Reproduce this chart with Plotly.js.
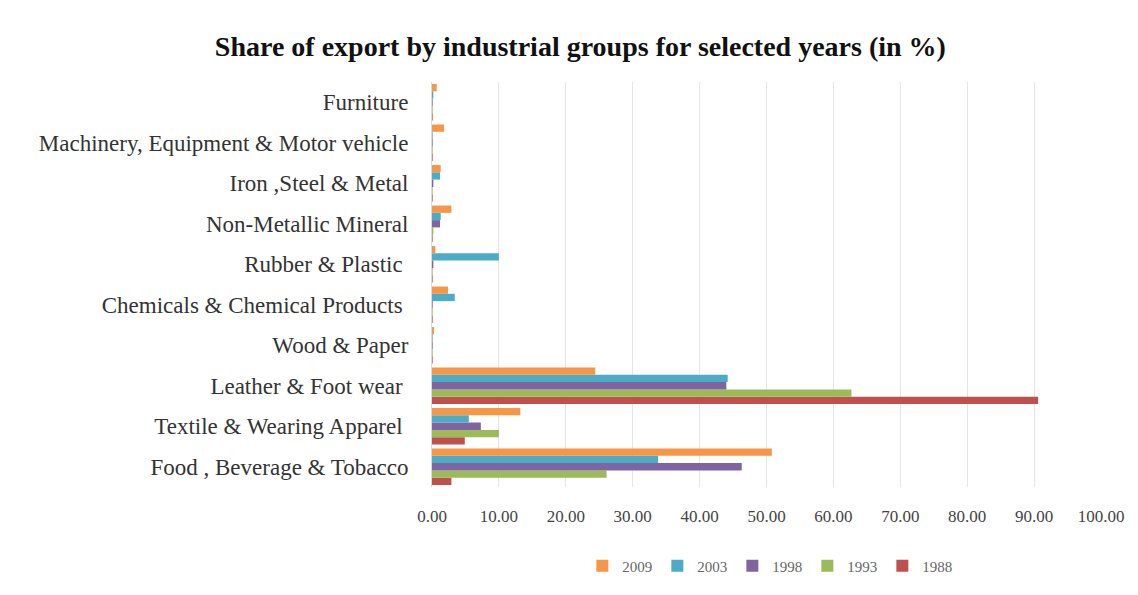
<!DOCTYPE html>
<html>
<head>
<meta charset="utf-8">
<script src="https://cdn.plot.ly/plotly-3.0.1.min.js"></script>
<style>html,body{margin:0;padding:0;background:#fff;}#chart{width:1138px;height:595px;}</style>
</head>
<body>
<div id="chart"></div>
<script>
const categories = ["Food , Beverage & Tobacco", "Textile & Wearing Apparel ", "Leather & Foot wear ", "Wood & Paper", "Chemicals & Chemical Products ", "Rubber & Plastic ", "Non-Metallic Mineral", "Iron ,Steel & Metal", "Machinery, Equipment & Motor vehicle", "Furniture"];
const years = ["1988", "1993", "1998", "2003", "2009"];
const v1988 = [2.9, 4.9, 90.6, 0.1, 0.1, 0.1, 0.1, 0.1, 0.1, 0.1];
const v1993 = [26.1, 10.0, 62.7, 0.1, 0.1, 0.1, 0.2, 0.1, 0.1, 0.1];
const v1998 = [46.3, 7.3, 44.0, 0.1, 0.1, 0.2, 1.2, 0.2, 0.1, 0.1];
const v2003 = [33.8, 5.5, 44.2, 0.1, 3.4, 10.0, 1.3, 1.2, 0.1, 0.2];
const v2009 = [50.8, 13.2, 24.4, 0.3, 2.4, 0.5, 2.9, 1.3, 1.8, 0.7];
const series = [v1988, v1993, v1998, v2003, v2009];
const colors = ["#C0504D", "#9BBB59", "#8064A2", "#4BACC6", "#F79646"];

const traces = years.map((y, i) => ({
  type: "bar",
  orientation: "h",
  name: y,
  y: categories,
  x: series[i],
  marker: {color: colors[i]}
}));

const serif = "Liberation Serif, Times New Roman, serif";
const layout = {
  width: 1138, height: 595,
  margin: {l: 432, r: 37, t: 82, b: 106},
  paper_bgcolor: "#fff", plot_bgcolor: "#fff",
  barmode: "group",
  bargap: 0.1,
  bargroupgap: 0,
  font: {family: serif, color: "#333"},
  title: {
    text: "<b>Share of export by industrial groups for selected years (in %)</b>",
    font: {family: serif, size: 28, color: "#111"},
    xref: "container", x: 0.51, xanchor: "center",
    yref: "container", y: 0.922, yanchor: "middle"
  },
  xaxis: {
    range: [0, 100], dtick: 10, tickformat: ".2f",
    showgrid: true, gridcolor: "#e6e6e6", gridwidth: 1,
    zeroline: false, showline: false,
    ticks: "outside", ticklen: 14, tickcolor: "rgba(0,0,0,0)",
    tickfont: {family: serif, size: 17, color: "#444"},
    fixedrange: true
  },
  yaxis: {
    type: "category",
    showgrid: false, zeroline: false,
    showline: true, linecolor: "#d9d9d9", linewidth: 1,
    ticks: "outside", ticklen: 18, tickcolor: "rgba(0,0,0,0)",
    tickfont: {family: serif, size: 23, color: "#333"},
    automargin: false
  },
  legend: {
    orientation: "h",
    traceorder: "reversed",
    x: 0.505, xanchor: "center",
    y: -0.195, yanchor: "middle",
    font: {family: serif, size: 15, color: "#666"},
    itemwidth: 30
  },
  showlegend: true
};

Plotly.newPlot("chart", traces, layout, {displayModeBar: false, staticPlot: true});
</script>
</body>
</html>
